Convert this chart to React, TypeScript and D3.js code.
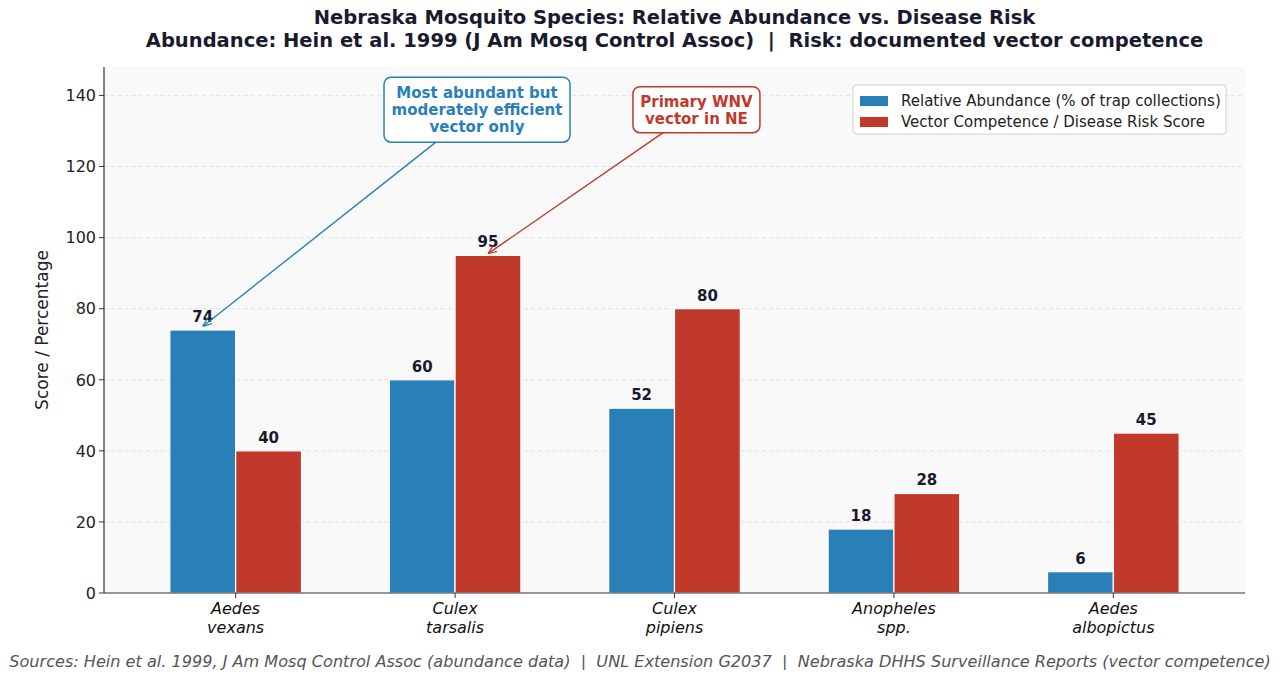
import * as d3 from 'd3'

const categories = ['Aedes\nvexans', 'Culex\ntarsalis', 'Culex\npipiens', 'Anopheles\nspp.', 'Aedes\nalbopictus']
const abundance = [74, 60, 52, 18, 6]
const risk = [40, 95, 80, 28, 45]
const yTicks = [0, 20, 40, 60, 80, 100, 120, 140]
const seriesNames = ['Relative Abundance (% of trap collections)', 'Vector Competence / Disease Risk Score']

const annotations = [
  { lines: ['Most abundant but', 'moderately efficient', 'vector only'], tip: [-0.15, 75], at: [1.1, 136], color: '#2980b9', w: 186, h: 65 },
  { lines: ['Primary WNV', 'vector in NE'], tip: [1.15, 95.5], at: [2.1, 136], color: '#c0392b', w: 127, h: 46 },
]

const W = 1280
const H = 678
const margin = { top: 67, right: 35, bottom: 85, left: 104 }
const BLUE = '#2980b9'
const RED = '#c0392b'
const INK = '#1a1a2e'
const FONT = 'DejaVu Sans, sans-serif'

// where the line from box centre to tip leaves the box
function boxEdge(cx: number, cy: number, w: number, h: number, tx: number, ty: number) {
  const dx = tx - cx
  const dy = ty - cy
  const s = Math.min((w / 2) / Math.abs(dx || 1e-9), (h / 2) / Math.abs(dy || 1e-9))
  return [cx + dx * s, cy + dy * s]
}

export default function App() {
  const x = d3.scaleLinear().domain([-0.6, categories.length - 0.4]).range([margin.left, W - margin.right])
  const y = d3.scaleLinear().domain([0, 148]).range([H - margin.bottom, margin.top])
  const bw = x(0.3) - x(0)
  const y0 = y(0)
  const midX = (margin.left + W - margin.right) / 2

  return (
    <svg width={W} height={H} style={{ display: 'block', margin: -8 }} fontFamily={FONT}>
      <defs>
        {annotations.map((a, i) => (
          <marker key={i} id={`arr${i}`} viewBox="0 0 10 10" refX="10" refY="5" markerWidth="9" markerHeight="9" orient="auto-start-reverse" markerUnits="userSpaceOnUse">
            <path d="M0,1 L10,5 L0,9" fill="none" stroke={a.color} strokeWidth={1.4} />
          </marker>
        ))}
      </defs>
      <rect width={W} height={H} fill="#fff" />
      <rect x={margin.left} y={margin.top} width={W - margin.left - margin.right} height={y0 - margin.top} fill="#f9f9f9" />

      {/* grid */}
      {yTicks.filter(t => t > 0).map(t => (
        <line key={t} x1={margin.left} x2={W - margin.right} y1={y(t)} y2={y(t)} stroke="#dcdcdc" strokeDasharray="4,3" strokeWidth={0.8} />
      ))}

      {/* bars */}
      {categories.map((c, i) => (
        <g key={c}>
          <rect x={x(i - 0.3)} y={y(abundance[i])} width={bw} height={y0 - y(abundance[i])} fill={BLUE} stroke="#fff" strokeWidth={1.2} />
          <rect x={x(i)} y={y(risk[i])} width={bw} height={y0 - y(risk[i])} fill={RED} stroke="#fff" strokeWidth={1.2} />
          <text x={x(i - 0.15)} y={y(abundance[i]) - 8} textAnchor="middle" fontSize={15} fontWeight="bold" fill={INK}>{abundance[i]}</text>
          <text x={x(i + 0.15)} y={y(risk[i]) - 8} textAnchor="middle" fontSize={15} fontWeight="bold" fill={INK}>{risk[i]}</text>
        </g>
      ))}

      {/* axes */}
      <line x1={margin.left} x2={margin.left} y1={margin.top} y2={y0} stroke="#333" strokeWidth={1.2} />
      <line x1={margin.left} x2={W - margin.right} y1={y0} y2={y0} stroke="#333" strokeWidth={1.2} />
      {yTicks.map(t => (
        <g key={t}>
          <line x1={margin.left - 5} x2={margin.left} y1={y(t)} y2={y(t)} stroke="#333" />
          <text x={margin.left - 8} y={y(t)} dy="0.36em" textAnchor="end" fontSize={16} fill="#222">{t}</text>
        </g>
      ))}
      {categories.map((c, i) => (
        <g key={c}>
          <line x1={x(i)} x2={x(i)} y1={y0} y2={y0 + 5} stroke="#333" />
          {c.split('\n').map((ln, j) => (
            <text key={j} x={x(i)} y={y0 + 21 + j * 19} textAnchor="middle" fontSize={16} fontStyle="italic" fill="#111">{ln}</text>
          ))}
        </g>
      ))}
      <text transform={`translate(48,${(margin.top + y0) / 2}) rotate(-90)`} textAnchor="middle" fontSize={17} fill="#222">Score / Percentage</text>

      {/* annotations */}
      {annotations.map((a, i) => {
        const cx = x(a.at[0])
        const cy = y(a.at[1])
        const tx = x(a.tip[0])
        const ty = y(a.tip[1])
        const [sx, sy] = boxEdge(cx, cy, a.w, a.h, tx, ty)
        const n = a.lines.length
        return (
          <g key={i}>
            <line x1={sx} y1={sy} x2={tx} y2={ty} stroke={a.color} strokeWidth={1.4} markerEnd={`url(#arr${i})`} />
            <rect x={cx - a.w / 2} y={cy - a.h / 2} width={a.w} height={a.h} rx={7} fill="#fff" stroke={a.color} strokeWidth={1.5} />
            {a.lines.map((ln, j) => (
              <text key={j} x={cx} y={cy + (j - (n - 1) / 2) * 17} dy="0.36em" textAnchor="middle" fontSize={15} fontWeight="bold" fill={a.color}>{ln}</text>
            ))}
          </g>
        )
      })}

      {/* legend */}
      <g transform="translate(853,85)">
        <rect width={373} height={49} rx={3} fill="#fff" fillOpacity={0.9} stroke="#d0d0d0" />
        {seriesNames.map((s, i) => (
          <g key={s} transform={`translate(7,${11 + i * 21})`}>
            <rect width={28} height={10} fill={i === 0 ? BLUE : RED} />
            <text x={41} y={5} dy="0.36em" fontSize={15} fill="#222">{s}</text>
          </g>
        ))}
      </g>

      {/* title */}
      <text x={midX} y={24} textAnchor="middle" fontSize={19.5} fontWeight="bold" fill={INK}>Nebraska Mosquito Species: Relative Abundance vs. Disease Risk</text>
      <text x={midX} y={47} textAnchor="middle" fontSize={19.5} fontWeight="bold" fill={INK} xmlSpace="preserve" style={{ whiteSpace: 'pre' }}>{'Abundance: Hein et al. 1999 (J Am Mosq Control Assoc)  |  Risk: documented vector competence'}</text>

      <text x={W / 2} y={667} textAnchor="middle" fontSize={16.1} fontStyle="italic" fill="#555" style={{ whiteSpace: 'pre' }}>{'Sources: Hein et al. 1999, J Am Mosq Control Assoc (abundance data)  |  UNL Extension G2037  |  Nebraska DHHS Surveillance Reports (vector competence)'}</text>
    </svg>
  )
}
